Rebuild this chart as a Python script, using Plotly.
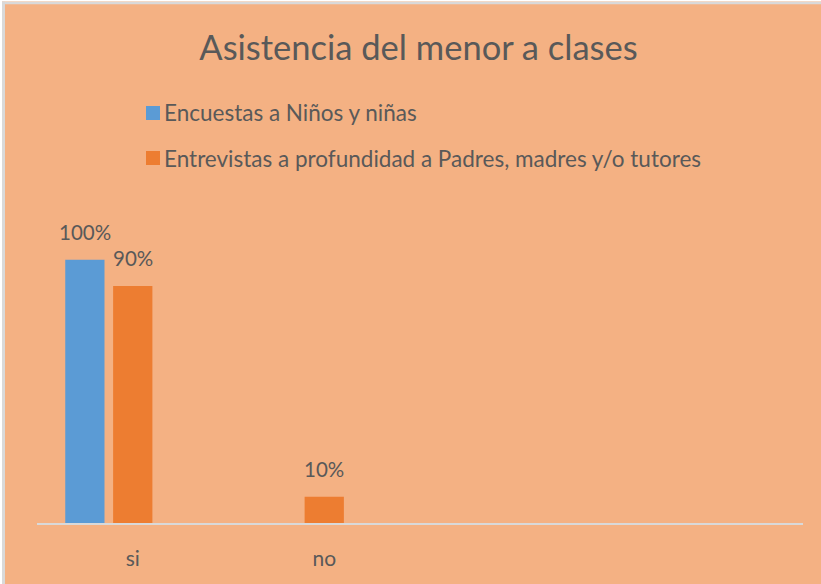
import plotly.graph_objects as go

# ---- data -------------------------------------------------------------
categories = ["si", "no"]
series_names = [
    "Encuestas a Niños y niñas",
    "Entrevistas a profundidad a Padres, madres y/o tutores",
]
ninos_values = [1.00, None]
padres_values = [0.90, 0.10]

# ---- styling ----------------------------------------------------------
BG = "#F4B183"
BLUE = "#5B9BD5"
ORANGE = "#ED7D31"
TEXT = "#595959"
AXIS = "#D9D9D9"
FONT = "Lato"

W, H = 821, 584
L, R, T, B = 37, 18, 207, 61
PW, PH = W - L - R, H - T - B


def px_x(px):
    """pixel column -> paper x"""
    return (px - L) / PW


def px_y(py):
    """pixel row -> paper y"""
    return (H - B - py) / PH


BAR_W = 0.205
centers = [-0.25, 0.0]          # bar centres inside each category slot
colors = [BLUE, ORANGE]
series_values = [ninos_values, padres_values]

fig = go.Figure()
for name, vals, col, c in zip(series_names, series_values, colors, centers):
    fig.add_trace(go.Bar(
        x=categories, y=vals, name=name,
        marker=dict(color=col, line=dict(width=0)),
        offset=c - BAR_W / 2, width=BAR_W,
        showlegend=False,
    ))

annotations = []
# value labels above the bars
for vals, c in zip(series_values, centers):
    for j, v in enumerate(vals):
        if v is None:
            continue
        annotations.append(dict(
            x=j + c, y=v, xref="x", yref="y",
            text=f"{v:.0%}", showarrow=False,
            xanchor="center", yanchor="bottom", yshift=14,
            font=dict(family=FONT, size=20.5, color=TEXT),
        ))

# legend rows: coloured square + series name
shapes = []
legend_rows = [113, 158]
for name, col, yc in zip(series_names, colors, legend_rows):
    shapes.append(dict(
        type="rect", xref="paper", yref="paper",
        x0=px_x(146), x1=px_x(160), y0=px_y(yc - 7), y1=px_y(yc + 7),
        fillcolor=col, line=dict(width=0),
    ))
    annotations.append(dict(
        x=px_x(162), y=px_y(yc), xref="paper", yref="paper",
        text=name, showarrow=False, xanchor="left", yanchor="middle",
        font=dict(family=FONT, size=22.5, color=TEXT),
    ))

# chart frame: thin white edge and light grey border on top/left only
shapes += [
    dict(type="rect", xref="paper", yref="paper", layer="above",
         x0=px_x(-5), x1=px_x(900), y0=px_y(1.5), y1=px_y(-5),
         line=dict(width=0), fillcolor="white"),
    dict(type="rect", xref="paper", yref="paper", layer="above",
         x0=px_x(-5), x1=px_x(2), y0=px_y(700), y1=px_y(-5),
         line=dict(width=0), fillcolor="white"),
    dict(type="line", xref="paper", yref="paper", layer="above",
         x0=px_x(2), x1=px_x(900), y0=px_y(3), y1=px_y(3),
         line=dict(color=AXIS, width=2.5)),
    dict(type="line", xref="paper", yref="paper", layer="above",
         x0=px_x(3.5), x1=px_x(3.5), y0=px_y(1.5), y1=px_y(700),
         line=dict(color=AXIS, width=3)),
]

fig.update_layout(
    width=W, height=H,
    margin=dict(l=L, r=R, t=T, b=B, pad=0),
    paper_bgcolor=BG, plot_bgcolor="rgba(0,0,0,0)",
    barmode="overlay",
    showlegend=False,
    title=dict(
        text="Asistencia del menor a clases",
        x=418.5 / W, xref="container", xanchor="center",
        y=1 - 48 / H, yref="container", yanchor="middle",
        font=dict(family=FONT, size=34.5, color=TEXT),
    ),
    xaxis=dict(
        type="category", categoryorder="array", categoryarray=categories,
        range=[-0.5, 3.5], showline=True, linecolor=AXIS, linewidth=2,
        showgrid=False, zeroline=False, ticks="",
        tickfont=dict(family=FONT, size=21, color=TEXT),
        ticklabelstandoff=16, fixedrange=True,
    ),
    yaxis=dict(range=[0, 1.2], visible=False, showgrid=False,
               zeroline=False, fixedrange=True),
    annotations=annotations,
    shapes=shapes,
)

fig.write_html("out.html")
